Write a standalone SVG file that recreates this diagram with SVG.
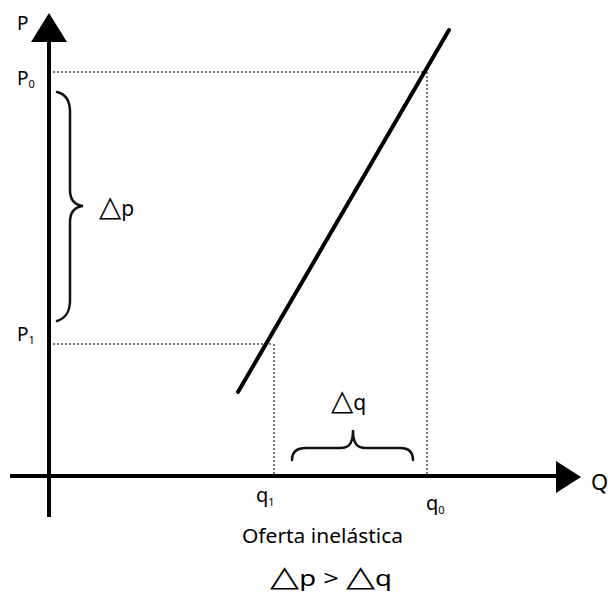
<svg xmlns="http://www.w3.org/2000/svg" width="608" height="594" viewBox="0 0 608 594">
<style>
.ax{stroke:#000;stroke-width:4;fill:none}
.dot{stroke:#555;stroke-width:1.6;stroke-dasharray:2 2;fill:none}
.br{stroke:#111;stroke-width:2.5;fill:none;stroke-linecap:round}
.t{font-family:"Noto Sans","Liberation Sans",Arial,sans-serif;fill:#000}
.tri{font-family:"DejaVu Sans",sans-serif}
</style>
<rect width="608" height="594" fill="#fff"/>
<g id="connectors">
<line class="dot" x1="53" y1="72" x2="426" y2="72"/>
<line class="dot" x1="427" y1="72" x2="427" y2="474"/>
<line class="dot" x1="53" y1="344" x2="273" y2="344"/>
<line class="dot" x1="274" y1="344" x2="274" y2="474"/>
</g>
<g id="y-axis">
<line class="ax" x1="49" y1="517" x2="49" y2="38"/>
<polygon points="49,13 67,42 31,42" fill="#000"/>
<text class="t" x="17" y="30" font-size="19">P</text>
</g>
<g id="x-axis">
<line class="ax" x1="10" y1="476" x2="560" y2="476"/>
<polygon points="581,477 556,461 556,493" fill="#000"/>
<text class="t" x="591" y="490" font-size="22">Q</text>
</g>
<g id="supply">
<line x1="238" y1="392" x2="449" y2="30" stroke="#000" stroke-width="4" stroke-linecap="round"/>
</g>
<g id="p0"><text class="t" x="17" y="85" font-size="19">P<tspan font-size="11" dy="3">0</tspan></text></g>
<g id="p1"><text class="t" x="17" y="341" font-size="19">P<tspan font-size="11" dy="3">1</tspan></text></g>
<g id="q1"><text class="t" x="256" y="502" font-size="20">q<tspan font-size="11" dy="4">1</tspan></text></g>
<g id="q0"><text class="t" x="426" y="510" font-size="20">q<tspan font-size="11" dy="4">0</tspan></text></g>
<g id="brace-p">
<path class="br" d="M57,92 C66,94 70,100 70,112 L70,190 C70,200 75,205 83,206 C75,207 70,212 70,222 L70,300 C70,312 66,318 57,321"/>
<text class="t" x="99" y="216" font-size="21"><tspan class="tri" font-size="29">△</tspan>p</text>
</g>
<g id="brace-q">
<path class="br" d="M292,460 C292,452 296,448 306,448 L340,448 C349,448 353,444 353,430 C353,444 357,448 366,448 L400,448 C409,448 413,452 413,460"/>
<text class="t" x="331" y="410" font-size="21"><tspan class="tri" font-size="29">△</tspan>q</text>
</g>
<g id="caption">
<text class="t" x="242" y="543" font-size="20" textLength="161" lengthAdjust="spacingAndGlyphs">Oferta inelástica</text>
<text class="t" x="270" y="586" font-size="21" textLength="122" lengthAdjust="spacingAndGlyphs"><tspan class="tri" font-size="29">△</tspan>p &gt; <tspan class="tri" font-size="29">△</tspan>q</text>
</g>
</svg>
